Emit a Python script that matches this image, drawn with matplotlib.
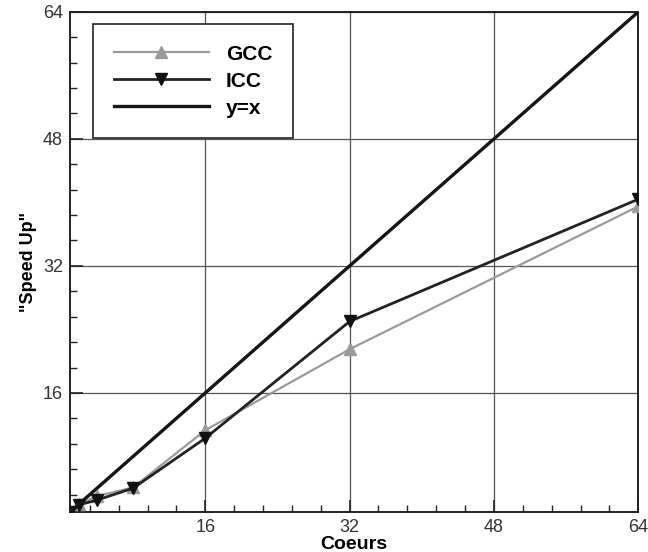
import matplotlib
matplotlib.use("Agg")
import matplotlib.pyplot as plt
from matplotlib.ticker import MultipleLocator

plt.rcParams["font.family"] = ["Liberation Sans", "DejaVu Sans"]

cores = [1, 2, 4, 8, 16, 32, 64]
gcc_speedup = [1.0, 2.0, 3.0, 4.1, 11.3, 21.5, 39.5]
icc_speedup = [1.0, 1.9, 2.5, 4.0, 10.3, 25.0, 40.4]
ideal = [1, 64]
ticks = [16, 32, 48, 64]

fig = plt.figure(figsize=(6.48, 5.52), dpi=100)
ax = fig.add_axes([0.108, 0.0725, 0.877, 0.906])

ax.plot(cores, gcc_speedup, color="#9a9a9a", lw=1.6, marker="^", ms=8,
        mec="#9a9a9a", mfc="#9a9a9a", label="GCC", zorder=3)
ax.plot(cores, icc_speedup, color="#222222", lw=2.0, marker="v", ms=8,
        mec="#111111", mfc="#111111", label="ICC", zorder=4)
ax.plot(ideal, ideal, color="#151515", lw=2.4, label="y=x", zorder=5)

ax.set_xlim(1, 64)
ax.set_ylim(1, 64)
ax.set_xticks(ticks)
ax.set_yticks(ticks)
ax.xaxis.set_minor_locator(MultipleLocator(3.2))
ax.yaxis.set_minor_locator(MultipleLocator(3.2))
ax.tick_params(which="major", direction="in", length=9, width=1.2,
               labelsize=13, color="#222222", labelcolor="#333333", pad=5)
ax.tick_params(which="minor", direction="in", length=5, width=1.0, color="#222222")
ax.grid(True, which="major", color="#555555", lw=0.9)
for s in ax.spines.values():
    s.set_linewidth(1.4)
    s.set_color("#222222")

ax.set_xlabel("Coeurs", fontsize=14, fontweight="bold", labelpad=0)
ax.set_ylabel('"Speed Up"', fontsize=13, fontweight="bold", labelpad=4)

leg = ax.legend(loc="upper left", bbox_to_anchor=(0.04, 0.976),
                prop={"size": 15, "weight": "bold"}, handlelength=4.6,
                borderpad=1.0, labelspacing=0.38, handletextpad=0.8,
                fancybox=False, framealpha=1, borderaxespad=0)
leg.get_frame().set_edgecolor("#222222")
leg.get_frame().set_linewidth(1.2)

fig.savefig("out.png", dpi=100)
